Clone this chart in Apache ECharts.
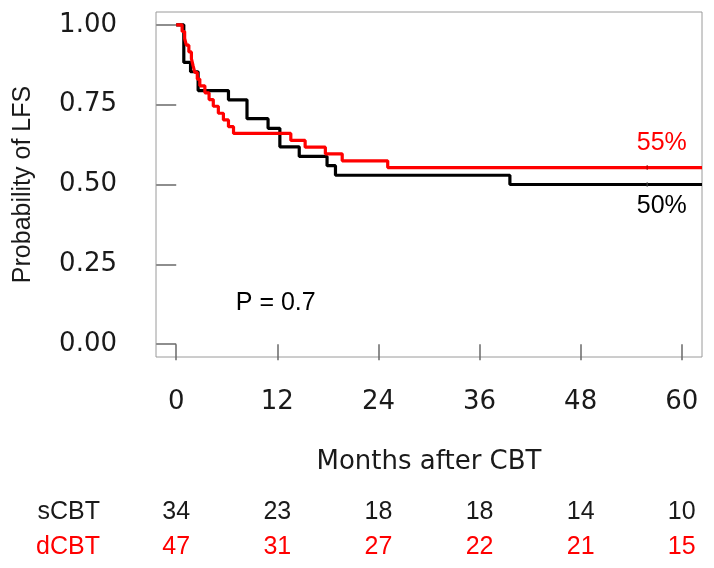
<!DOCTYPE html>
<html>
<head>
<meta charset="utf-8">
<script src="https://cdn.jsdelivr.net/npm/echarts@6/dist/echarts.min.js"></script>
<style>html,body{margin:0;padding:0;background:#fff}#c{width:714px;height:568px}</style>
</head>
<body>
<div id="c"></div>
<script>
// ---- data ----
const months = [0, 12, 24, 36, 48, 60];
const yTicks = [0, 0.25, 0.5, 0.75, 1];
const groups = ['sCBT', 'dCBT'];
const sCBTatRisk = [34, 23, 18, 18, 14, 10];
const dCBTatRisk = [47, 31, 27, 22, 21, 15];
const sCBTtime = [0, 0.9, 1.7, 2.6, 6.2, 8.4, 10.9, 12.3, 14.6, 17.9, 18.9, 39.6, 62.4];
const sCBTsurv = [1, 0.882, 0.853, 0.794, 0.765, 0.706, 0.676, 0.618, 0.588, 0.559, 0.529, 0.5, 0.5];
const dCBTtime = [0, 0.7, 1.0, 1.2, 1.5, 1.8, 2.0, 2.2, 2.5, 2.8, 3.4, 3.9, 4.4, 5.0, 5.6, 6.2, 6.8, 13.6, 15.3, 17.7, 19.7, 25.1, 62.4];
const dCBTsurv = [1, 0.979, 0.957, 0.936, 0.915, 0.894, 0.872, 0.851, 0.83, 0.809, 0.787, 0.766, 0.745, 0.723, 0.702, 0.681, 0.66, 0.638, 0.617, 0.596, 0.574, 0.553, 0.553];
const sCBTcensor = [[55.9, 0.5]];
const dCBTcensor = [[55.9, 0.553]];
const finalLabels = ['50%', '55%'];
const pValueText = 'P = 0.7';

// ---- chart ----
const BLACK = '#000000', RED = '#ff0000', TXT = '#1a1a1a';
const RFONT = 'DejaVu Sans', AFONT = 'Liberation Sans';
const XMIN = -2.4, XMAX = 62.4, YMIN = -0.04, YMAX = 1.04;
const zip = (a, b) => a.map((v, i) => [v, b[i]]);

function riskAxis(name, counts, color, offset) {
  return {
    type: 'value', min: XMIN, max: XMAX, position: 'bottom', offset: offset,
    axisLine: { show: false }, axisTick: { show: false }, splitLine: { show: false },
    axisLabel: {
      customValues: months, margin: 0, verticalAlign: 'middle',
      color: color, fontFamily: AFONT, fontSize: 25,
      formatter: v => String(counts[months.indexOf(v)])
    },
    name: name, nameLocation: 'start', nameGap: 56,
    nameTextStyle: { color: color, fontFamily: AFONT, fontSize: 25, align: 'right', verticalAlign: 'middle' }
  };
}

function censorSeries(data, color) {
  return {
    type: 'scatter', data: data, symbol: 'rect', symbolSize: [1.5, 5],
    itemStyle: { color: color, opacity: 0.6 }, silent: true, z: 5
  };
}

const chart = echarts.init(document.getElementById('c'), null, { renderer: 'canvas' });
chart.setOption({
  animation: false,
  backgroundColor: '#fff',
  grid: { left: 156, right: 12, top: 12, bottom: 211, show: true, borderColor: '#9a9a9a', borderWidth: 1, containLabel: false, outerBoundsMode: 'none' },
  xAxis: [
    {
      type: 'value', min: XMIN, max: XMAX, position: 'bottom',
      axisLine: { show: false },
      axisTick: { show: true, customValues: months, length: 16, lineStyle: { color: '#6a6a6a', width: 1.5 } },
      axisLabel: { customValues: months, margin: 32, color: TXT, fontFamily: RFONT, fontSize: 26 },
      splitLine: { show: false },
      name: 'Months after CBT', nameLocation: 'middle', nameGap: 92,
      nameTextStyle: { color: TXT, fontFamily: RFONT, fontSize: 26 }
    },
    riskAxis(groups[0], sCBTatRisk, TXT, 155),
    riskAxis(groups[1], dCBTatRisk, RED, 190)
  ],
  yAxis: {
    type: 'value', min: YMIN, max: YMAX,
    axisLine: { show: false },
    axisTick: { show: true, customValues: yTicks, length: 20, lineStyle: { color: '#6a6a6a', width: 1.5 } },
    axisLabel: { customValues: yTicks, margin: 39, color: TXT, fontFamily: RFONT, fontSize: 26, formatter: v => v.toFixed(2) },
    splitLine: { show: false },
    name: 'Probability of LFS', nameLocation: 'middle', nameGap: 120, nameRotate: 90,
    nameTextStyle: { color: TXT, fontFamily: AFONT, fontSize: 25 }
  },
  series: [
    {
      name: groups[0], type: 'line', step: 'end', xAxisIndex: 0, data: zip(sCBTtime, sCBTsurv),
      showSymbol: false, lineStyle: { color: BLACK, width: 3.2 }, itemStyle: { color: BLACK }, z: 3,
      markPoint: {
        symbolSize: 0, silent: true,
        data: [
          { coord: [60.6, 0.431], value: finalLabels[0], label: { align: 'right' } },
          { coord: [7.07, 0.128], value: pValueText, label: { align: 'left' } }
        ],
        label: { show: true, position: 'inside', color: BLACK, fontFamily: AFONT, fontSize: 25, formatter: p => p.value }
      }
    },
    {
      name: groups[1], type: 'line', step: 'end', xAxisIndex: 0, data: zip(dCBTtime, dCBTsurv),
      showSymbol: false, lineStyle: { color: RED, width: 3.2 }, itemStyle: { color: RED }, z: 4,
      markPoint: {
        symbolSize: 0, silent: true,
        data: [{ coord: [60.6, 0.631], value: finalLabels[1], label: { align: 'right' } }],
        label: { show: true, position: 'inside', color: RED, fontFamily: AFONT, fontSize: 25, formatter: p => p.value }
      }
    },
    censorSeries(sCBTcensor, '#555'),
    censorSeries(dCBTcensor, '#900')
  ]
});
</script>
</body>
</html>
